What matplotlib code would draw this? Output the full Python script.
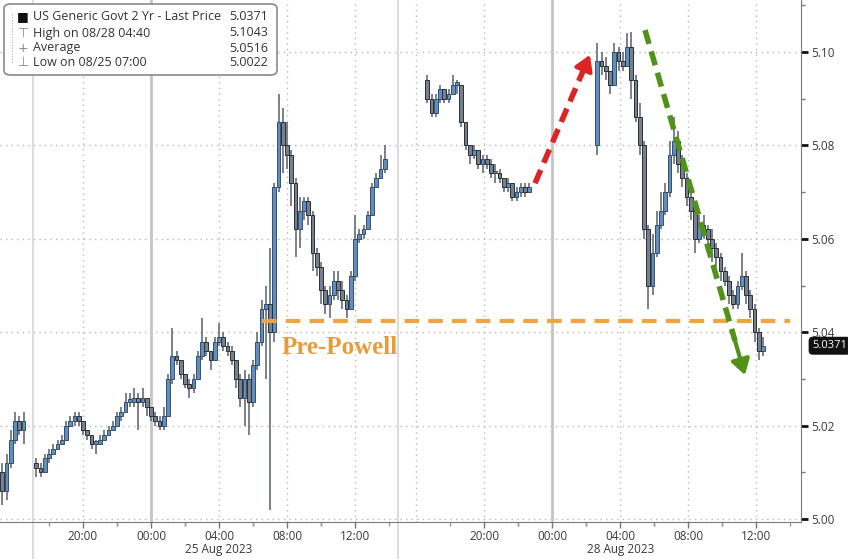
import numpy as np
import matplotlib
matplotlib.use("Agg")
import matplotlib.pyplot as plt
import matplotlib.transforms as mtransforms
from matplotlib.patches import FancyBboxPatch

plt.rcParams['font.family'] = ['Open Sans', 'DejaVu Sans']

# x axis is in "chart hours": 0 = 20:00 on 24 Aug, weekend gap squeezed out
BAR = 0.25  # 15-minute bars

# previous session tail (Aug 24, before 17:00)
s0_start, s0_open = -4.75, 5.010
s0_close = [5.006, 5.012, 5.017, 5.021, 5.019, 5.021]
s0_high = [5.012, 5.014, 5.019, 5.023, 5.022, 5.023]
s0_low = [5.003, 5.004, 5.011, 5.016, 5.018, 5.016]

# Aug 24 17:00 -> Aug 25 afternoon
s1_start, s1_open = -2.75, 5.012
s1_close = [5.011, 5.010, 5.013, 5.014, 5.015, 5.016, 5.017, 5.020, 5.021, 5.022,
            5.021, 5.019, 5.018, 5.016, 5.016, 5.017, 5.018, 5.019, 5.020, 5.022,
            5.023, 5.025, 5.025, 5.026, 5.025, 5.026, 5.024, 5.022, 5.021, 5.020,
            5.022, 5.030, 5.035, 5.034, 5.031, 5.029, 5.028, 5.030, 5.035, 5.038,
            5.036, 5.034, 5.038, 5.039, 5.037, 5.036, 5.034, 5.030, 5.026, 5.030,
            5.025, 5.033, 5.038, 5.045, 5.046, 5.040, 5.071, 5.085, 5.080, 5.078,
            5.072, 5.062, 5.066, 5.068, 5.065, 5.057, 5.054, 5.049, 5.046, 5.048,
            5.051, 5.049, 5.047, 5.045, 5.052, 5.060, 5.061, 5.062, 5.065, 5.071,
            5.073, 5.075, 5.077]
s1_high = [5.013, 5.012, 5.014, 5.015, 5.016, 5.017, 5.018, 5.021, 5.022, 5.023,
           5.023, 5.021, 5.019, 5.018, 5.017, 5.018, 5.019, 5.020, 5.021, 5.023,
           5.024, 5.027, 5.027, 5.028, 5.027, 5.028, 5.026, 5.024, 5.023, 5.022,
           5.024, 5.031, 5.041, 5.036, 5.034, 5.031, 5.030, 5.031, 5.036, 5.043,
           5.039, 5.036, 5.039, 5.042, 5.040, 5.038, 5.037, 5.034, 5.031, 5.032,
           5.031, 5.034, 5.040, 5.047, 5.050, 5.058, 5.072, 5.091, 5.088, 5.085,
           5.079, 5.073, 5.069, 5.069, 5.069, 5.066, 5.058, 5.055, 5.050, 5.050,
           5.053, 5.053, 5.051, 5.048, 5.053, 5.065, 5.062, 5.063, 5.066, 5.072,
           5.074, 5.078, 5.080]
s1_low = [5.009, 5.009, 5.010, 5.012, 5.014, 5.015, 5.016, 5.017, 5.020, 5.020,
          5.020, 5.018, 5.017, 5.015, 5.014, 5.016, 5.017, 5.018, 5.019, 5.020,
          5.021, 5.023, 5.024, 5.024, 5.019, 5.024, 5.022, 5.021, 5.020, 5.019,
          5.019, 5.022, 5.029, 5.033, 5.030, 5.028, 5.026, 5.027, 5.030, 5.034,
          5.035, 5.032, 5.034, 5.037, 5.036, 5.035, 5.033, 5.028, 5.024, 5.020,
          5.018, 5.024, 5.032, 5.037, 5.030, 5.002, 5.038, 5.070, 5.074, 5.075,
          5.067, 5.056, 5.058, 5.064, 5.063, 5.053, 5.052, 5.046, 5.044, 5.043,
          5.047, 5.047, 5.045, 5.043, 5.045, 5.051, 5.059, 5.060, 5.062, 5.065,
          5.071, 5.073, 5.074]

# Aug 27 evening
s2_start, s2_open = 20.25, 5.094
s2_close = [5.090, 5.087, 5.090, 5.092, 5.090, 5.091, 5.093, 5.093, 5.085, 5.080,
            5.078, 5.079, 5.076, 5.077, 5.076, 5.074, 5.074, 5.073, 5.071, 5.072,
            5.069, 5.070, 5.071, 5.070, 5.071]
s2_high = [5.095, 5.091, 5.091, 5.093, 5.092, 5.092, 5.095, 5.094, 5.093, 5.085,
           5.080, 5.080, 5.079, 5.078, 5.078, 5.077, 5.076, 5.075, 5.073, 5.073,
           5.072, 5.071, 5.072, 5.072, 5.072]
s2_low = [5.089, 5.086, 5.086, 5.089, 5.089, 5.089, 5.091, 5.091, 5.084, 5.079,
          5.076, 5.077, 5.075, 5.074, 5.075, 5.073, 5.072, 5.072, 5.070, 5.070,
          5.068, 5.068, 5.069, 5.069, 5.070]

# Aug 28 from ~03:30
s3_start, s3_open = 30.25, 5.080
s3_close = [5.098, 5.097, 5.096, 5.093, 5.100, 5.098, 5.097, 5.101, 5.094, 5.086,
            5.080, 5.062, 5.050, 5.057, 5.063, 5.066, 5.070, 5.078, 5.081, 5.076,
            5.073, 5.069, 5.066, 5.060, 5.063, 5.062, 5.060, 5.058, 5.056, 5.053,
            5.051, 5.048, 5.046, 5.050, 5.052, 5.048, 5.045, 5.040, 5.036, 5.0371]
s3_high = [5.102, 5.100, 5.099, 5.096, 5.102, 5.101, 5.100, 5.104, 5.1043, 5.095,
           5.089, 5.081, 5.063, 5.061, 5.066, 5.070, 5.072, 5.081, 5.086, 5.083,
           5.078, 5.074, 5.070, 5.067, 5.065, 5.065, 5.063, 5.062, 5.059, 5.057,
           5.054, 5.052, 5.049, 5.051, 5.057, 5.053, 5.049, 5.046, 5.041, 5.039]
s3_low = [5.078, 5.095, 5.094, 5.091, 5.093, 5.096, 5.096, 5.097, 5.090, 5.085,
          5.078, 5.060, 5.045, 5.048, 5.056, 5.062, 5.065, 5.069, 5.076, 5.074,
          5.071, 5.067, 5.064, 5.057, 5.059, 5.060, 5.058, 5.055, 5.054, 5.051,
          5.050, 5.046, 5.045, 5.045, 5.049, 5.046, 5.043, 5.038, 5.034, 5.035]

tick_pos = [0, 4, 8, 12, 16, 23.6, 27.6, 31.6, 35.6, 39.6]
tick_lab = ['20:00', '00:00', '04:00', '08:00', '12:00',
            '20:00', '00:00', '04:00', '08:00', '12:00']
day_lines = [4, 27.6]
extra_grid = [19.6]
session_breaks = [-2.94, 18.53]
date_labels = [(8, '25 Aug 2023'), (31.6, '28 Aug 2023')]

pre_powell = 5.0424
pre_powell_span = (10.53, 41.6)
red_arrow = [(26.59, 5.0719), (29.82, 5.0994)]
green_arrow = [(33.06, 5.1047), (38.94, 5.0308)]

legend_rows = [('US Generic Govt 2 Yr - Last Price', '5.0371'),
               ('High on 08/28 04:40', '5.1043'),
               ('Average', '5.0516'),
               ('Low on 08/25 07:00', '5.0022')]
last_price = 5.0371

fig = plt.figure(figsize=(8.48, 5.59), dpi=100)
ax = fig.add_axes([0.0, 1 - 522 / 559, 801 / 848, 522 / 559])
ax.set_xlim(-83 / 17, (801 - 83) / 17)
ax.set_ylim(5.0 - 3 / 4670, 5.10 + 52 / 4670)

# grid
for y in [5.00, 5.02, 5.04, 5.06, 5.08, 5.10]:
    ax.axhline(y, color='#b8b8b8', lw=1, ls=(0, (1, 3)), zorder=0)
for t in tick_pos + extra_grid:
    if t in day_lines:
        ax.axvline(t, color='#c4c4c4', lw=2, zorder=0)
    else:
        ax.axvline(t, color='#b8b8b8', lw=1, ls=(0, (1, 3)), zorder=0)
ax.vlines(session_breaks, -0.07, 1, transform=ax.get_xaxis_transform(),
          color='#d6d6d6', lw=1.2, clip_on=False, zorder=0)


def candles(start, first_open, close, high, low):
    t = start + BAR * np.arange(len(close))
    c = np.array(close)
    o = np.concatenate([[first_open], c[:-1]])
    up = c >= o
    ax.vlines(t, low, high, color='#646c78', lw=1.2, zorder=2)
    body_lo = np.minimum(o, c)
    body_h = np.maximum(np.abs(c - o), 0.0006)
    ax.bar(t[up], body_h[up], bottom=body_lo[up], width=0.22,
           color='#5f8fc2', edgecolor='#3a4e64', lw=0.7, zorder=3)
    ax.bar(t[~up], body_h[~up], bottom=body_lo[~up], width=0.22,
           color='#758090', edgecolor='#2a2f36', lw=0.7, zorder=3)


candles(s0_start, s0_open, s0_close, s0_high, s0_low)
candles(s1_start, s1_open, s1_close, s1_high, s1_low)
candles(s2_start, s2_open, s2_close, s2_high, s2_low)
candles(s3_start, s3_open, s3_close, s3_high, s3_low)

# Pre-Powell level
ax.plot(pre_powell_span, [pre_powell, pre_powell], color='#F0A343', lw=3,
        dashes=(3.5, 2.2), zorder=4)
ax.text(11.7, 5.0368, 'Pre-Powell', color='#E99B3A', fontsize=18,
        fontweight='bold', family='Liberation Serif', va='center', ha='left', zorder=5)


def dashed_arrow(pts, color):
    (x0, y0), (x1, y1) = pts
    fx, fy = x0 + 0.9 * (x1 - x0), y0 + 0.9 * (y1 - y0)
    ax.plot([x0, fx], [y0, fy], color=color, lw=4, dashes=(2.6, 1.4),
            solid_capstyle='butt', zorder=6)
    ax.annotate('', xy=(x1, y1), xytext=(fx, fy),
                arrowprops=dict(arrowstyle='-|>,head_width=0.55,head_length=0.9',
                                color=color, lw=3, shrinkA=0, shrinkB=0), zorder=6)


dashed_arrow(red_arrow, '#DC2424')
dashed_arrow(green_arrow, '#52921A')

# axes styling
for s in ['left', 'top']:
    ax.spines[s].set_visible(False)
ax.spines['right'].set_color('#7a7a7a')
ax.spines['bottom'].set_color('#7a7a7a')
ax.yaxis.tick_right()
ax.set_yticks([5.00, 5.02, 5.04, 5.06, 5.08, 5.10])
ax.set_yticklabels(['5.00', '5.02', '5.04', '5.06', '5.08', '5.10'])
ax.set_yticks([5.01, 5.03, 5.05, 5.07, 5.09, 5.11], minor=True)
ax.tick_params(axis='y', which='major', length=5, width=2, color='#111111',
               labelsize=8.5, labelcolor='#3a3a3a', pad=2)
ax.tick_params(axis='y', which='minor', length=3, width=1, color='#777777')
ax.set_xticks(tick_pos)
ax.set_xticklabels(tick_lab)
minor_x = [t + d for t in tick_pos for d in (-2, 2)]
ax.set_xticks(minor_x, minor=True)
ax.tick_params(axis='x', which='major', length=4, width=1, color='#777777',
               labelsize=8.5, labelcolor='#3a3a3a', pad=2)
ax.tick_params(axis='x', which='minor', length=3, width=1, color='#999999')

trans = mtransforms.blended_transform_factory(ax.transData, fig.transFigure)
for x, lab in date_labels:
    ax.text(x, 10 / 559, lab, transform=trans, ha='center', va='center',
            fontsize=8.5, color='#3a3a3a')

# last price tag
ax.annotate(f'{last_price:.4f}', xy=(1, last_price), xycoords=ax.get_yaxis_transform(),
            xytext=(8, 0), textcoords='offset points', va='center', ha='left',
            fontsize=8, color='white', annotation_clip=False,
            bbox=dict(boxstyle='round,pad=0.25,rounding_size=0.3', fc='#111111', ec='#111111'))

# legend box
fig.patches.append(FancyBboxPatch((4 / 848, 1 - 75 / 559), 273 / 848, 71 / 559,
                                  boxstyle='round,pad=0,rounding_size=0.008',
                                  transform=fig.transFigure, fc='white', ec='#8a8a8a',
                                  lw=1.2, zorder=10))
row_y = [17, 33, 48, 63]
icons = ['■', '⊤', '+', '⊥']
icon_col = ['#111111', '#888888', '#888888', '#888888']
for (lab, val), y, ic, icc in zip(legend_rows, row_y, icons, icon_col):
    fy = 1 - y / 559
    fig.text(23 / 848, fy, ic, fontsize=9, color=icc, ha='center', va='center',
             family='DejaVu Sans', zorder=11)
    fig.text(33 / 848, fy, lab, fontsize=9, color='#333333', ha='left', va='center', zorder=11)
    fig.text(268 / 848, fy, val, fontsize=9, color='#333333', ha='right', va='center', zorder=11)
fig.lines.append(plt.Line2D([12 / 848, 12 / 848], [1 - 14 / 559, 1 - 63 / 559],
                            transform=fig.transFigure, color='#b0b0b0', lw=0.8,
                            ls=(0, (1, 1.5)), zorder=11))

fig.savefig('out.png', dpi=100)
